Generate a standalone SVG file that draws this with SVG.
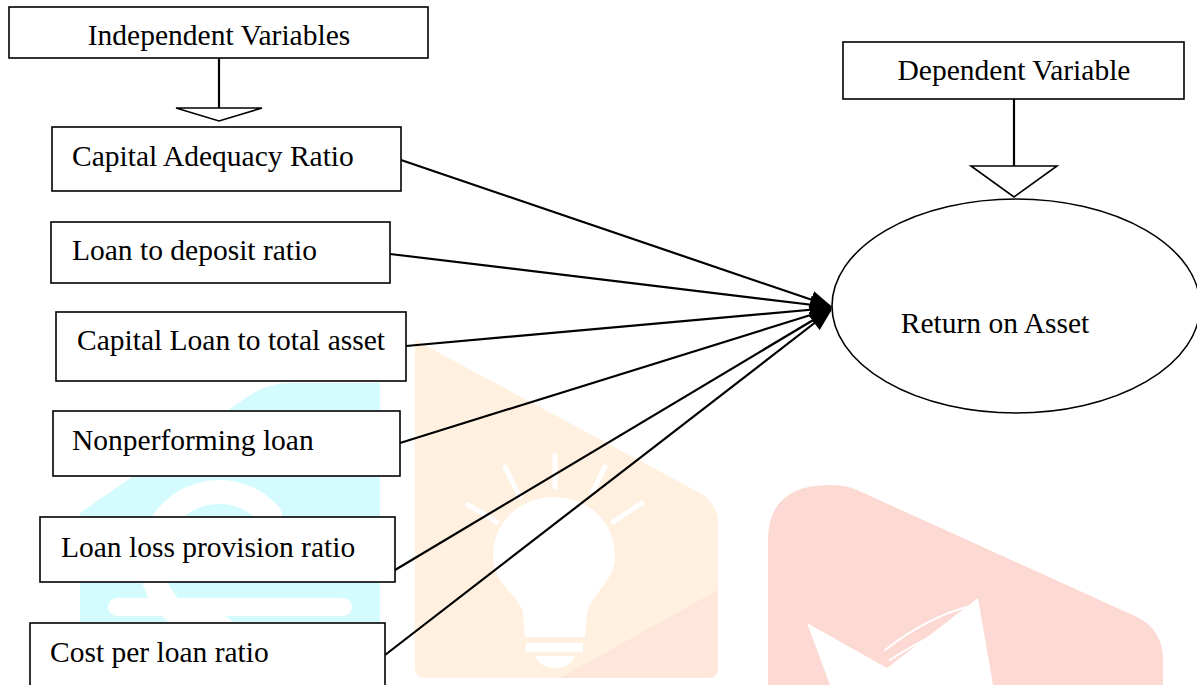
<svg xmlns="http://www.w3.org/2000/svg" width="1197" height="685" viewBox="0 0 1197 685">
<style>
.box{fill:#fff;stroke:#000;stroke-width:1.6}
.t{font-family:"Liberation Serif","Times New Roman",serif;font-size:29.5px;fill:#000}
.c{stroke:#000;stroke-width:2.2;fill:none}
.tri{fill:#fff;stroke:#000;stroke-width:1.6}
.w{stroke:#fff;stroke-linecap:round;fill:none}
</style>
<defs>
<marker id="ah" markerWidth="10" markerHeight="8" refX="9" refY="4" orient="auto" markerUnits="strokeWidth">
<path d="M0,0 L10,4 L0,8 Z" fill="#000"/>
</marker>
</defs>
<rect width="1197" height="685" fill="#fff"/>
<g id="watermark">
<path d="M80,513 L250,395 Q268,383 290,383 L380,383 L380,685 L80,685 Z" fill="#d4fbfd"/>
<path d="M270,515 A68,68 0 1 0 222,628" class="w" stroke-width="24"/>
<path d="M117,607 L343,607" class="w" stroke-width="18"/>
<path d="M415,340 L700,493 Q718,503 718,525 L718,668 Q718,678 708,678 L425,678 Q415,678 415,668 Z" fill="#fff0df"/>
<path d="M560,678 L718,590 L718,668 Q718,678 708,678 Z" fill="#fee6da"/>
<path d="M554,497 C520,497 493,522 493,556 C493,585 520,595 523,613 L525,637 L585,637 L587,613 C592,592 615,582 615,556 C615,522 588,497 554,497 Z" fill="#fff"/>
<rect x="526" y="643" width="57" height="9" fill="#fff"/>
<path d="M535,656 L575,656 Q570,668 555,668 Q540,668 535,656 Z" fill="#fff"/>
<path d="M468,505 L497,522 M505,467 L520,497 M555,455 L555,487 M605,467 L592,493 M613,522 L642,503" class="w" stroke-width="5"/>
<path d="M768,540 Q768,485 830,485 Q845,485 857,490 L1137,617 Q1163,630 1163,660 L1163,685 L768,685 Z" fill="#fdd9d3"/>
<path d="M807,623 L887,668 L978,598 L993,685 L830,685 Z" fill="#fff"/>
<path d="M885,650 Q930,615 975,605 M890,660 Q935,630 978,620" class="w" stroke="#fde9e5" stroke-width="2"/>
</g>
<g id="connectors">
<line class="c" x1="219" y1="58" x2="219" y2="108"/>
<polygon class="tri" points="176,108 262,108 219,121"/>
<line class="c" x1="1014" y1="99" x2="1014" y2="166"/>
<polygon class="tri" points="971,166 1057,166 1014,197"/>
<line class="c" x1="401" y1="160" x2="830" y2="306" marker-end="url(#ah)"/>
<line class="c" x1="390" y1="254" x2="830" y2="307" marker-end="url(#ah)"/>
<line class="c" x1="406" y1="346" x2="830" y2="308" marker-end="url(#ah)"/>
<line class="c" x1="400" y1="443" x2="830" y2="309" marker-end="url(#ah)"/>
<line class="c" x1="395" y1="570" x2="830" y2="310" marker-end="url(#ah)"/>
<line class="c" x1="385" y1="655" x2="830" y2="311" marker-end="url(#ah)"/>
</g>
<g id="n-independent">
<rect class="box" x="9" y="7" width="419" height="51"/>
<text class="t" x="219" y="45" text-anchor="middle">Independent Variables</text>
</g>
<g id="n-car">
<rect class="box" x="52" y="127" width="349" height="64"/>
<text class="t" x="72" y="166">Capital Adequacy Ratio</text>
</g>
<g id="n-ldr">
<rect class="box" x="51" y="222" width="339" height="61"/>
<text class="t" x="72" y="260">Loan to deposit ratio</text>
</g>
<g id="n-clta">
<rect class="box" x="56" y="312" width="350" height="69"/>
<text class="t" x="77" y="350">Capital Loan to total asset</text>
</g>
<g id="n-npl">
<rect class="box" x="53" y="411" width="347" height="65"/>
<text class="t" x="72" y="450">Nonperforming loan</text>
</g>
<g id="n-llpr">
<rect class="box" x="40" y="517" width="355" height="65"/>
<text class="t" x="61" y="557">Loan loss provision ratio</text>
</g>
<g id="n-cplr">
<rect class="box" x="30" y="623" width="355" height="70"/>
<text class="t" x="50" y="662">Cost per loan ratio</text>
</g>
<g id="n-dependent">
<rect class="box" x="843" y="42" width="341" height="57"/>
<text class="t" x="1014" y="80" text-anchor="middle">Dependent Variable</text>
</g>
<g id="n-roa">
<ellipse class="box" cx="1016" cy="306" rx="184" ry="107"/>
<text class="t" x="995" y="333" text-anchor="middle">Return on Asset</text>
</g>
</svg>
